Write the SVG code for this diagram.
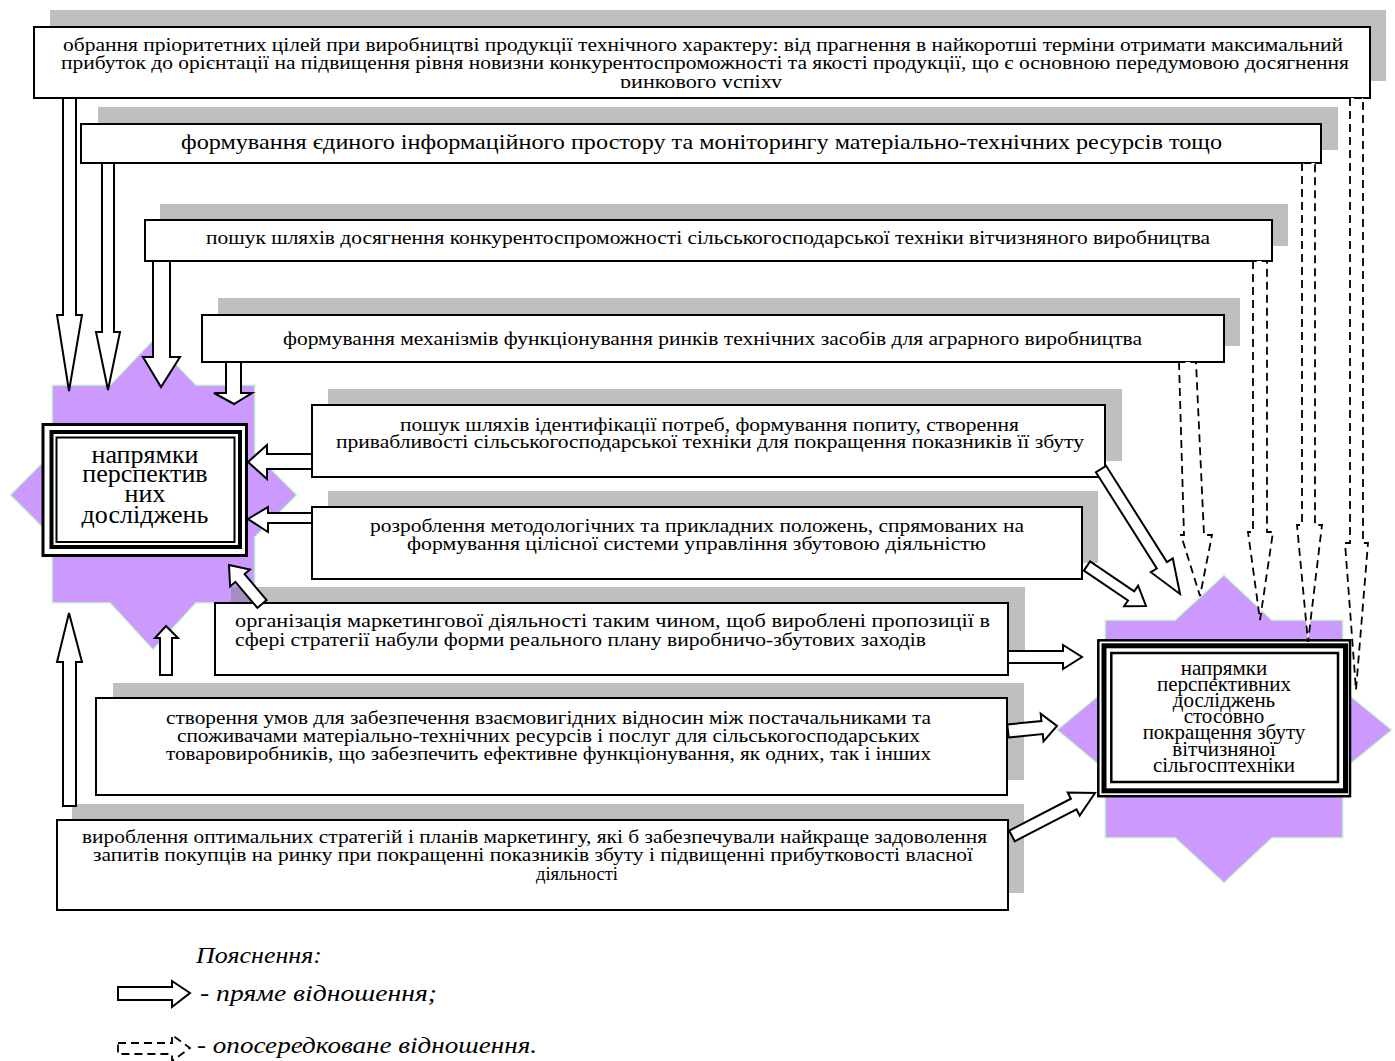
<svg xmlns="http://www.w3.org/2000/svg" width="1395" height="1061" viewBox="0 0 1395 1061">
<defs>
<style>
.box{fill:#fff;stroke:#000;stroke-width:2}
.shadow{fill:#808080;fill-opacity:0.5}
.star{fill:#cc99ff;stroke:#ccffcc;stroke-width:1.5}
.t{font-family:'Times New Roman','Liberation Serif',serif;font-size:18px;fill:#000}
.c{text-anchor:middle}
.leg{font-family:'Times New Roman','Liberation Serif',serif;font-size:23px;font-style:italic;fill:#000}
.arrow{fill:#fff;stroke:#000;stroke-width:2;stroke-linejoin:miter}
.darrow{fill:#fff;stroke:#000;stroke-width:1.8;stroke-dasharray:8 5}
.frame{fill:none;stroke:#000}
</style>
<clipPath id="clip1"><rect x="34" y="27" width="1336" height="61"/></clipPath>
</defs>
<rect width="1395" height="1061" fill="#fff"/>

<g id="node-left-center">
<polygon class="star" points="52,385 110,385 153,340 196,385 255,385 255,453 297,495 255,537 255,603 196,603 153,650 110,603 52,603 52,537 10,495 52,453"/>
<rect x="43" y="424.5" width="203.5" height="131" fill="#fff" stroke="#000" stroke-width="3"/>
<rect class="frame" x="51.5" y="432" width="188.5" height="115" stroke-width="4"/>
<rect class="frame" x="56.5" y="437.5" width="178" height="104.5" stroke-width="2"/>
<g class="t c" style="font-size:26px">
<text x="145" y="463">напрямки</text>
<text x="145" y="482">перспектив</text>
<text x="145" y="502">них</text>
<text x="145" y="523">досліджень</text>
</g>
</g>

<g id="node-right-center">
<polygon class="star" points="1105,620 1175,620 1224,575 1272,620 1343,620 1343,690 1392,730 1343,770 1343,838 1272,838 1224,883 1175,838 1105,838 1105,770 1057,730 1105,690"/>
<rect x="1098.3" y="640.3" width="251.7" height="155.9" fill="#fff" stroke="#000" stroke-width="2.5"/>
<rect class="frame" x="1104" y="645.8" width="241.5" height="145" stroke-width="5"/>
<rect class="frame" x="1111.3" y="653" width="226.7" height="129" stroke-width="2.5"/>
<g class="t c" style="font-size:21px">
<text x="1224" y="675">напрямки</text>
<text x="1224" y="691">перспективних</text>
<text x="1224" y="707">досліджень</text>
<text x="1224" y="723">стосовно</text>
<text x="1224" y="739">покращення збуту</text>
<text x="1224" y="756">вітчизняної</text>
<text x="1224" y="772">сільгосптехніки</text>
</g>
</g>

<g id="node-1">
<rect class="shadow" x="50" y="10" width="1336" height="71"/>
<rect class="box" x="34" y="27" width="1336" height="71"/>
<text class="t" x="63" y="51" textLength="1280" lengthAdjust="spacingAndGlyphs">обрання пріоритетних цілей при виробництві продукції технічного характеру: від прагнення в найкоротші терміни отримати максимальний</text>
<text class="t" x="61" y="69" textLength="1288" lengthAdjust="spacingAndGlyphs">прибуток до орієнтації на підвищення рівня новизни конкурентоспроможності та якості продукції, що є основною передумовою досягнення</text>
<text class="t" x="620" y="88" textLength="162" lengthAdjust="spacingAndGlyphs" clip-path="url(#clip1)">ринкового успіху</text>
</g>

<g id="node-2">
<rect class="shadow" x="98" y="107" width="1240" height="43"/>
<rect class="box" x="81" y="124" width="1240" height="39"/>
<text class="t" x="181" y="149" style="font-size:21px" textLength="1041" lengthAdjust="spacingAndGlyphs">формування єдиного інформаційного простору та моніторингу матеріально-технічних ресурсів тощо</text>
</g>

<g id="node-3">
<rect class="shadow" x="160" y="204" width="1128" height="42"/>
<rect class="box" x="145" y="220" width="1127" height="41"/>
<text class="t" x="206" y="244" textLength="1004" lengthAdjust="spacingAndGlyphs">пошук шляхів досягнення конкурентоспроможності сільськогосподарської техніки вітчизняного виробництва</text>
</g>

<g id="node-4">
<rect class="shadow" x="218" y="298" width="1022" height="48"/>
<rect class="box" x="202" y="315" width="1022" height="47"/>
<text class="t" x="283" y="345" textLength="859" lengthAdjust="spacingAndGlyphs">формування механізмів функціонування ринків технічних засобів для аграрного виробництва</text>
</g>

<g id="node-5">
<rect class="shadow" x="328" y="389" width="794" height="72"/>
<rect class="box" x="312" y="405" width="793" height="72"/>
<text class="t" x="400" y="431" textLength="619" lengthAdjust="spacingAndGlyphs">пошук шляхів ідентифікації потреб, формування попиту, створення</text>
<text class="t" x="336" y="448" textLength="748" lengthAdjust="spacingAndGlyphs">привабливості сільськогосподарської техніки для покращення показників її збуту</text>
</g>

<g id="node-6">
<rect class="shadow" x="328" y="491" width="770" height="72"/>
<rect class="box" x="312" y="507" width="770" height="72"/>
<text class="t" x="370" y="532" textLength="654" lengthAdjust="spacingAndGlyphs">розроблення методологічних та прикладних положень, спрямованих на</text>
<text class="t" x="407" y="550" textLength="579" lengthAdjust="spacingAndGlyphs">формування цілісної системи  управління збутовою діяльністю</text>
</g>

<g id="node-7">
<rect class="shadow" x="231" y="587" width="794" height="72"/>
<rect class="box" x="215" y="603" width="793" height="72"/>
<text class="t" x="235" y="627" textLength="755" lengthAdjust="spacingAndGlyphs">організація маркетингової діяльності  таким чином, щоб вироблені пропозиції в</text>
<text class="t" x="235" y="646" textLength="691" lengthAdjust="spacingAndGlyphs">сфері стратегії набули форми реального плану виробничо-збутових заходів</text>
</g>

<g id="node-8">
<rect class="shadow" x="113" y="683" width="911" height="97"/>
<rect class="box" x="96" y="698" width="911" height="97"/>
<text class="t" x="166" y="724" textLength="765" lengthAdjust="spacingAndGlyphs">створення умов для забезпечення взаємовигідних відносин між постачальниками та</text>
<text class="t" x="177" y="742" textLength="743" lengthAdjust="spacingAndGlyphs">споживачами матеріально-технічних ресурсів і послуг для сільськогосподарських</text>
<text class="t" x="166" y="760" textLength="765" lengthAdjust="spacingAndGlyphs">товаровиробників, що забезпечить ефективне функціонування, як одних, так і інших</text>
</g>

<g id="node-9">
<rect class="shadow" x="72" y="804" width="952" height="89"/>
<rect class="box" x="57" y="820" width="951" height="90"/>
<text class="t" x="82" y="843" textLength="905" lengthAdjust="spacingAndGlyphs">вироблення оптимальних стратегій і планів маркетингу, які б забезпечували найкраще задоволення</text>
<text class="t" x="93" y="861" textLength="880" lengthAdjust="spacingAndGlyphs">запитів покупців на ринку при покращенні показників збуту і підвищенні прибутковості власної</text>
<text class="t" x="536" y="880" textLength="82" lengthAdjust="spacingAndGlyphs">діяльності</text>
</g>

<g id="connectors">
<polygon class="arrow" points="63,98 76,98 76,315 82,315 69,391 57,315 63,315"/>
<polygon class="arrow" points="102,163 114,163 114,332 120,332 108,390 96,332 102,332"/>
<polygon class="arrow" points="153,261 170,261 170,357 180,357 161,387 143,357 153,357"/>
<polygon class="arrow" points="226,362 241,362 241,393 252,393 234,404 214,393 226,393"/>
<polygon class="arrow" points="312,454 267,454 267,445 248,462 267,479 267,469 312,469"/>
<polygon class="arrow" points="312,513 268,513 268,507 248,519 268,532 268,523 312,523"/>
<polygon class="arrow" points="266.6,600.1 244.6,574.1 249.9,569.6 229,565 230.1,586.4 235.4,581.8 257.4,607.9"/>
<polygon class="arrow" points="160,675 160,638 155,638 166,626 178,638 172,638 172,675"/>
<polygon class="arrow" points="63,806 63,662 57,662 69,613 82,662 76,662 76,806"/>
<polygon class="arrow" points="1095.9,472.2 1156.8,568.5 1150.8,572.2 1180,594 1172.8,558.4 1166.9,562.1 1106.1,465.8"/>
<polygon class="arrow" points="1083.9,570.6 1128,600.5 1124.1,606.2 1146,606 1138.1,585.6 1134.2,591.3 1090.1,561.4"/>
<polygon class="arrow" points="1008,651 1063,651 1063,645 1082,657 1063,669 1063,663 1008,663"/>
<polygon class="arrow" points="1008.7,737.5 1042.8,734 1043.5,741.4 1057,726 1040.7,713.6 1041.4,721 1007.3,724.5"/>
<polygon class="arrow" points="1014.8,841.3 1076.5,809.3 1079.7,815.5 1095,793 1067.7,792.5 1070.9,798.7 1009.2,830.7"/>
<polygon class="darrow" points="1179,362 1184,535 1181,535 1200,596 1212,535 1204,535 1196,362"/>
<polygon class="darrow" points="1253,261 1253,532 1248,532 1260,620 1273,532 1267,532 1267,261"/>
<polygon class="darrow" points="1302,163 1302,525 1297,525 1308,642 1322,525 1315,525 1315,163"/>
<polygon class="darrow" points="1350,98 1350,543 1345,543 1356,690 1368,543 1363,543 1363,98"/>
</g>

<g id="legend">
<text class="leg" x="196" y="963" textLength="126" lengthAdjust="spacingAndGlyphs">Пояснення:</text>
<polygon class="arrow" points="118,987 172,987 172,981 190,993 172,1007 172,1000 118,1000"/>
<text class="leg" x="200" y="1001" textLength="237" lengthAdjust="spacingAndGlyphs">-  пряме відношення;</text>
<polygon class="darrow" points="118,1043 172,1043 172,1035 190,1048 172,1061 172,1054 118,1054"/>
<text class="leg" x="197" y="1053" textLength="340" lengthAdjust="spacingAndGlyphs">- опосередковане відношення.</text>
</g>
</svg>
